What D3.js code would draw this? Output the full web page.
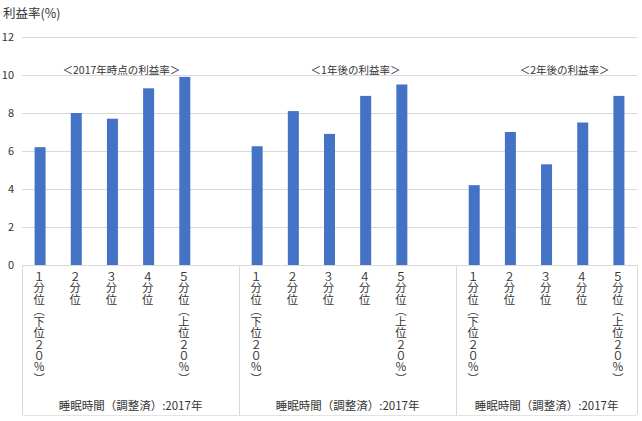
<!DOCTYPE html>
<html>
<head>
<meta charset="utf-8">
<script src="https://cdn.jsdelivr.net/npm/d3@7/dist/d3.min.js"></script>
<style>
  html, body { margin: 0; padding: 0; background: #fff; }
  svg { display: block; }
  text { font-family: "Noto Sans CJK JP", "Noto Sans", sans-serif; fill: #333333; }
</style>
</head>
<body>
<div id="chart"></div>
<script>
// ---- data ----
const quintiles = ["１分位（下位２０％）", "２分位", "３分位", "４分位", "５分位（上位２０％）"];
const groupTitles = ["＜2017年時点の利益率＞", "＜1年後の利益率＞", "＜2年後の利益率＞"];
const groupAxisLabel = "睡眠時間（調整済）:2017年";
const yTitle = "利益率(%)";
const yTicks = [0, 2, 4, 6, 8, 10, 12];
const values2017 = [6.2, 8.0, 7.7, 9.3, 9.9];
const values1y = [6.25, 8.1, 6.9, 8.9, 9.5];
const values2y = [4.2, 7.0, 5.3, 7.5, 8.9];
const seriesByGroup = [values2017, values1y, values2y];

// ---- layout ----
const W = 642, H = 421;
const plot = { left: 22, right: 637, top: 37, bottom: 265 };
const axisBottom = 415;
const titleOffsets = [9, 26, 18]; // title textbox shift from group's 3rd bar
const barColor = "#4472C4";
const gridColor = "#d9d9d9";

// build category list (5 bars per group, empty slot between groups)
const cats = [];
seriesByGroup.forEach((vals, g) => {
  vals.forEach((v, i) => cats.push({ id: `g${g}-${i}`, g, i, value: v, label: quintiles[i] }));
  if (g < seriesByGroup.length - 1) cats.push({ id: `g${g}-gap`, g, i: -1, value: null, label: "" });
});

const svg = d3.select("#chart").append("svg").attr("width", W).attr("height", H);

const x = d3.scaleBand()
  .domain(cats.map(d => d.id))
  .range([plot.left, plot.right])
  .paddingInner(0.696)
  .paddingOuter(0.348);
const y = d3.scaleLinear().domain([0, 12]).range([plot.bottom, plot.top]);
const step = x.step();

// gridlines
svg.append("g").selectAll("line").data(yTicks.filter(t => t > 0)).join("line")
  .attr("x1", plot.left).attr("x2", plot.right)
  .attr("y1", d => Math.round(y(d)) + 0.5).attr("y2", d => Math.round(y(d)) + 0.5)
  .attr("stroke", gridColor).attr("stroke-width", 1);

// y axis labels
const yAxis = d3.axisLeft(y).tickValues(yTicks).tickSize(0).tickPadding(8).tickFormat(d3.format("d"));
const gy = svg.append("g").attr("transform", `translate(${plot.left},0)`).call(yAxis);
gy.select(".domain").remove();
gy.selectAll("text").attr("font-size", 11).attr("fill", "#333333")
  .style("font-family", "'Noto Sans CJK JP', sans-serif");

// bars
svg.append("g").selectAll("rect").data(cats.filter(d => d.value !== null)).join("rect")
  .attr("x", d => x(d.id)).attr("width", x.bandwidth())
  .attr("y", d => y(d.value)).attr("height", d => y(0) - y(d.value))
  .attr("fill", barColor);

// category axis line, separators, bottom line
svg.append("line").attr("x1", plot.left).attr("x2", plot.right)
  .attr("y1", y(0) + 0.5).attr("y2", y(0) + 0.5).attr("stroke", gridColor);
svg.append("line").attr("x1", plot.left).attr("x2", plot.right)
  .attr("y1", axisBottom + 0.5).attr("y2", axisBottom + 0.5).attr("stroke", "#e3e3e3");
const boundaries = [0, 6, 12, 17].map(k => plot.left + k * step);
svg.append("g").selectAll("line").data(boundaries).join("line")
  .attr("x1", d => Math.round(d) + 0.5).attr("x2", d => Math.round(d) + 0.5)
  .attr("y1", y(0)).attr("y2", axisBottom)
  .attr("stroke", gridColor);

// vertical category labels
svg.append("g").selectAll("text").data(cats.filter(d => d.label)).join("text")
  .attr("x", d => x(d.id) + x.bandwidth() / 2 - 1)
  .attr("y", y(0) + 6)
  .attr("font-size", 11.3)
  .style("writing-mode", "vertical-rl")
  .text(d => d.label);

// group axis labels and group titles
seriesByGroup.forEach((vals, g) => {
  const x0 = boundaries[g], x1 = boundaries[g + 1];
  svg.append("text")
    .attr("x", (x0 + x1) / 2).attr("y", axisBottom - 5)
    .attr("text-anchor", "middle").attr("font-size", 11.5)
    .text(groupAxisLabel);
  const mid = x(`g${g}-2`) + x.bandwidth() / 2 + titleOffsets[g];
  svg.append("text")
    .attr("x", mid).attr("y", y(10.2) + 3)
    .attr("text-anchor", "middle").attr("font-size", 10.5)
    .text(groupTitles[g]);
});

// y title
svg.append("text").attr("x", 3).attr("y", 18).attr("font-size", 12.5).text(yTitle);
</script>
</body>
</html>
